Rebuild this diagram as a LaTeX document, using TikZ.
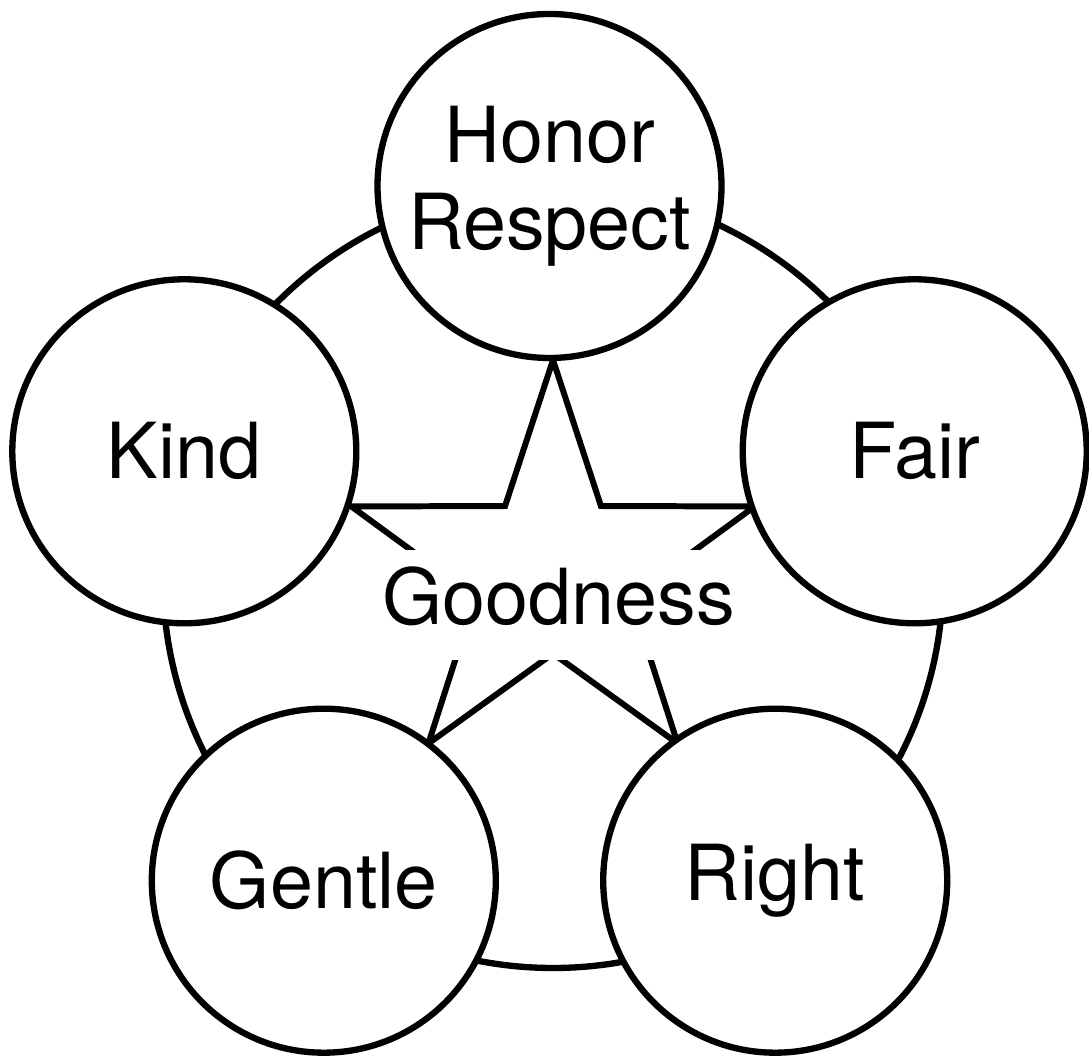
\documentclass[tikz,border=0pt]{standalone}
\usepackage{fontspec}
\setmainfont{TeX Gyre Heros}
\usetikzlibrary{shapes.geometric}
\tikzset{
    virtue node/.style={circle, draw=black, fill=white, line width=1.8pt, minimum size=3.44cm, inner sep=0pt, align=center, font=\fontsize{22}{24.7}\selectfont},
    ring line/.style={draw=black, line width=1.8pt},
    star outline/.style={star, star points=5, star point ratio=2.6, draw=black, line width=1.7pt, minimum size=4.24cm, inner sep=0pt},
    core label/.style={fill=white, inner sep=0.17cm, text height=0.58cm, text depth=0.18cm, font=\fontsize{22}{26}\selectfont},
}

\begin{document}
\begin{tikzpicture}
    \useasboundingbox (0,0) rectangle (10.89,10.63);

    % Ring behind the circles
    \draw[ring line] (5.53,4.85) circle (3.90cm);

    % Star and centre label
    \node[star outline] (star) at (5.53,4.91) {};
    \node[core label, anchor=base] (goodness) at (5.59,4.38) {Goodness};

    % Virtues
    \node[virtue node] (honor) at (5.495,8.77) {Honor\\Respect};
    \node[virtue node] (kind) at (1.843,6.117) {Kind};
    \node[virtue node] (fair) at (9.147,6.117) {Fair};
    \node[virtue node] (gentle) at (3.238,1.823) {Gentle};
    \node[virtue node] (right) at (7.752,1.823) {Right};
\end{tikzpicture}
\end{document}
